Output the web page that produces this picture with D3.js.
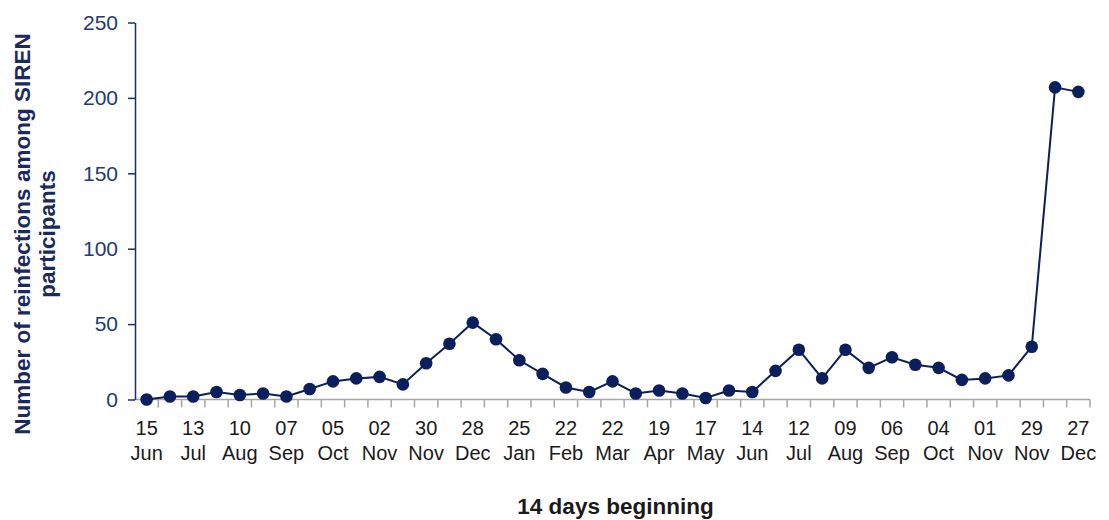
<!DOCTYPE html>
<html>
<head>
<meta charset="utf-8">
<script src="https://cdn.jsdelivr.net/npm/d3@7/dist/d3.min.js"></script>
<style>
  html, body { margin: 0; padding: 0; background: #fff; }
  svg { display: block; font-family: "Liberation Sans", Arial, sans-serif; }
</style>
</head>
<body>
<svg id="chart" width="1109" height="520"></svg>
<script>
// 14-day periods (beginning date); labels shown on every second period
const periods = [
  "15 Jun","29 Jun","13 Jul","27 Jul","10 Aug","24 Aug","07 Sep","21 Sep",
  "05 Oct","19 Oct","02 Nov","16 Nov","30 Nov","14 Dec","28 Dec","11 Jan",
  "25 Jan","08 Feb","22 Feb","08 Mar","22 Mar","05 Apr","19 Apr","03 May",
  "17 May","31 May","14 Jun","28 Jun","12 Jul","26 Jul","09 Aug","23 Aug",
  "06 Sep","20 Sep","04 Oct","18 Oct","01 Nov","15 Nov","29 Nov","13 Dec","27 Dec"
];
const reinfections = [
  0, 2, 2, 5, 3, 4, 2, 7, 12, 14, 15, 10, 24, 37, 51, 40,
  26, 17, 8, 5, 12, 4, 6, 4, 1, 6, 5, 19, 33, 14, 33, 21,
  28, 23, 21, 13, 14, 16, 35, 207, 204
];
const yTicks = [0, 50, 100, 150, 200, 250];
const yTitleLines = ["Number of reinfections among SIREN", "participants"];
const xTitle = "14 days beginning";

(function () {
const svg = d3.select("#chart");
const mLeft = 135, mRight = 1090, mTop = 22.5, mBottom = 399.5;

const x = d3.scaleBand().domain(periods).range([mLeft, mRight]).paddingInner(0).paddingOuter(0);
const y = d3.scaleLinear().domain([0, 250]).range([mBottom, mTop]);

const navy = "#0b1f5c";

// X axis: grey line with ticks at band boundaries
const xg = svg.append("g");
xg.append("line")
  .attr("x1", mLeft).attr("x2", mRight)
  .attr("y1", mBottom).attr("y2", mBottom)
  .attr("stroke", "#a6a6a6").attr("stroke-width", 1.5);
const boundaries = periods.map(p => x(p)).concat([mRight]);
xg.selectAll("line.tk").data(boundaries.slice(1)).join("line")
  .attr("class", "tk")
  .attr("x1", d => d).attr("x2", d => d)
  .attr("y1", mBottom).attr("y2", mBottom + 8)
  .attr("stroke", "#a6a6a6").attr("stroke-width", 1.5);

// X labels (every second period)
const labelled = periods.filter((p, i) => i % 2 === 0);
const xl = xg.selectAll("text.xl").data(labelled).join("text")
  .attr("class", "xl")
  .attr("text-anchor", "middle")
  .attr("font-size", 20)
  .attr("fill", "#1a1a1a");
xl.append("tspan")
  .attr("x", d => x(d) + x.bandwidth() / 2).attr("y", 435)
  .text(d => d.split(" ")[0]);
xl.append("tspan")
  .attr("x", d => x(d) + x.bandwidth() / 2).attr("y", 460)
  .text(d => d.split(" ")[1]);

// Y axis
const yAxis = d3.axisLeft(y).tickValues(yTicks).tickSize(7).tickPadding(10).tickSizeOuter(0);
const yg = svg.append("g").attr("transform", `translate(${mLeft},0)`).call(yAxis);
yg.select(".domain").attr("stroke", "#1f2f63").attr("stroke-width", 1.5);
yg.selectAll(".tick line").attr("stroke", "#1f2f63").attr("stroke-width", 1.5);
yg.selectAll(".tick text")
  .attr("font-size", 21)
  .attr("font-family", "'Liberation Sans', Arial, sans-serif")
  .attr("fill", "#243a73");

// Line
const line = d3.line()
  .x((d, i) => x(periods[i]) + x.bandwidth() / 2)
  .y(d => y(d));
svg.append("path")
  .datum(reinfections)
  .attr("d", line)
  .attr("fill", "none")
  .attr("stroke", navy)
  .attr("stroke-width", 2);

svg.selectAll("circle.pt").data(reinfections).join("circle")
  .attr("class", "pt")
  .attr("cx", (d, i) => x(periods[i]) + x.bandwidth() / 2)
  .attr("cy", d => y(d))
  .attr("r", 6.3)
  .attr("fill", navy);

// Y title
const yt = svg.append("text")
  .attr("transform", `translate(0, ${234}) rotate(-90)`)
  .attr("text-anchor", "middle")
  .attr("font-size", 22.5)
  .attr("font-weight", "bold")
  .attr("fill", "#1a2a5e");
yt.selectAll("tspan").data(yTitleLines).join("tspan")
  .attr("x", 0)
  .attr("y", (d, i) => 30 + i * 25)
  .text(d => d);

// X title
svg.append("text")
  .attr("x", 615.5).attr("y", 514)
  .attr("text-anchor", "middle")
  .attr("font-size", 22.5)
  .attr("font-weight", "bold")
  .attr("fill", "#1a1a1a")
  .text(xTitle);
})();
</script>
</body>
</html>
